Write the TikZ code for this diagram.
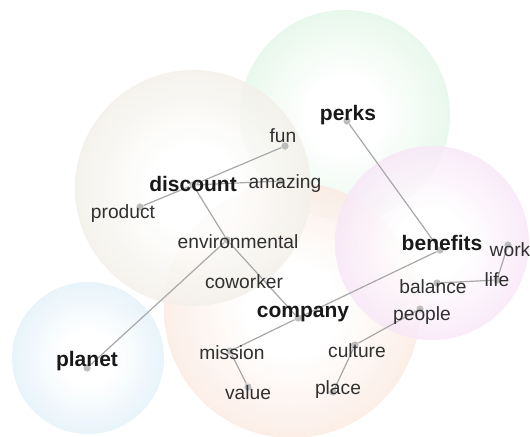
\documentclass[tikz,border=0pt]{standalone}
\usepackage{fontspec}
\setmainfont{Liberation Sans}
\usetikzlibrary{positioning}
\definecolor{Mint}{HTML}{D0F0D8}
\definecolor{Sand}{HTML}{EAE5DA}
\definecolor{Lilac}{HTML}{F3D6F1}
\definecolor{Peach}{HTML}{F9DCCD}
\definecolor{Sky}{HTML}{CFE8F5}
\definecolor{Ink}{HTML}{303030}
\definecolor{Link}{HTML}{A8A8A8}
\definecolor{Knot}{HTML}{BDBDBD}
\colorlet{bubble}{Mint}
\pgfdeclareradialshading[bubble]{bubblefade}{\pgfpoint{0bp}{0bp}}{color(0bp)=(white); color(9bp)=(white); color(37bp)=(bubble); color(50bp)=(bubble)}
\tikzset{
  halo/.style={/utils/exec={\colorlet{bubble}{#1}},shading=bubblefade,opacity=.85},
  knot/.style={circle,fill=Knot,inner sep=0pt,minimum size=3.6pt},
  word/.style={text=Ink,inner sep=0pt,font=\fontsize{9.6}{10}\selectfont},
  hub/.style={text=black!90,inner sep=0pt,font=\fontsize{10.5}{11}\selectfont\bfseries},
  link/.style={draw=Link,line width=.6pt}
}
\begin{document}
\begin{tikzpicture}[x=.5pt,y=-.5pt]
  \useasboundingbox (0,0) rectangle (530,436);
  % clusters
  \shade[halo=Mint] (345,115) circle [radius=105];
  \shade[halo=Peach] (292,310) circle [radius=128];
  \shade[halo=Sand] (193,188) circle [radius=118];
  \shade[halo=Lilac] (432,243) circle [radius=97];
  \shade[halo=Sky] (88,358) circle [radius=76];
  % word positions
  \node[knot] (perks) at (347,121) {};
  \node[knot] (fun) at (285,146) {};
  \node[knot] (discount) at (193,185) {};
  \node[knot] (amazing) at (280,181) {};
  \node[knot] (product) at (140,207) {};
  \node[knot] (environmental) at (227,240) {};
  \node[knot] (company) at (298,318) {};
  \node[knot] (mission) at (230,351) {};
  \node[knot] (value) at (248,387) {};
  \node[knot] (culture) at (355,345) {};
  \node[knot] (place) at (333,392) {};
  \node[knot] (people) at (420,309) {};
  \node[knot] (balance) at (437,283) {};
  \node[knot] (life) at (497,280) {};
  \node[knot] (work) at (508,245) {};
  \node[knot] (benefits) at (440,250) {};
  \node[knot] (planet) at (87,368) {};
  % links
  \draw[link] (discount) -- (fun);
  \draw[link] (discount) -- (amazing);
  \draw[link] (discount) -- (product);
  \draw[link] (discount) -- (environmental);
  \draw[link] (environmental) -- (company);
  \draw[link] (environmental) -- (planet);
  \draw[link] (perks) -- (benefits);
  \draw[link] (benefits) -- (company);
  \draw[link] (company) -- (mission);
  \draw[link] (mission) -- (value);
  \draw[link] (culture) -- (people);
  \draw[link] (culture) -- (place);
  \draw[link] (balance) -- (life);
  \draw[link] (life) -- (work);
  % labels
  \node[hub] (perks-t) at (348,115) {perks};
  \node[word] (fun-t) at (283,136) {fun};
  \node[hub] (discount-t) at (193,184) {discount};
  \node[word] (amazing-t) at (285,184) {amazing};
  \node[word] (product-t) at (123,214) {product};
  \node[word] (environmental-t) at (238,242) {environmental};
  \node[word] (coworker-t) at (244,282) {coworker};
  \node[hub] (company-t) at (303,314) {company};
  \node[word] (mission-t) at (232,353) {mission};
  \node[word] (value-t) at (248,393) {value};
  \node[word] (culture-t) at (357,351) {culture};
  \node[word] (place-t) at (338,390) {place};
  \node[word] (people-t) at (422,316) {people};
  \node[word] (balance-t) at (433,287) {balance};
  \node[word] (life-t) at (497,280) {life};
  \node[word] (work-t) at (510,250) {work};
  \node[hub] (benefits-t) at (442,243) {benefits};
  \node[hub] (planet-t) at (87,361) {planet};
\end{tikzpicture}
\end{document}
